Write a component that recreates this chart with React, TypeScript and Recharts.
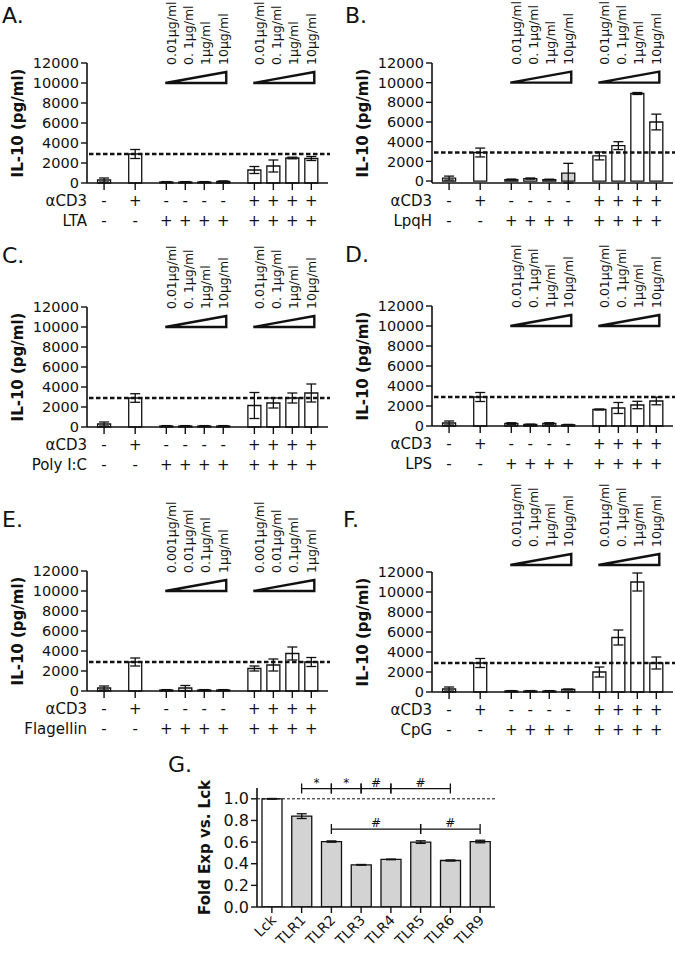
import React from "react";
import {
  ComposedChart,
  Bar,
  Cell,
  ErrorBar,
  XAxis,
  YAxis,
  ReferenceLine,
} from "recharts";

const FONT = "'DejaVu Sans', sans-serif";
const INK = "#111";

// conditions under each bar
const cd3Row = ["-", "+", "-", "-", "-", "-", "+", "+", "+", "+"];
const agonistRow = ["-", "-", "+", "+", "+", "+", "+", "+", "+", "+"];
const il10Ticks = [0, 2000, 4000, 6000, 8000, 10000, 12000];
const cd3Level = 2900;

const dosesStd = ["0.01µg/ml", "0. 1µg/ml", "1µg/ml", "10µg/ml"];
const dosesFla = ["0.001µg/ml", "0.01µg/ml", "0.1µg/ml", "1µg/ml"];

const ltaMean = [300, 2900, 100, 100, 100, 150, 1300, 1700, 2500, 2450];
const ltaErr = [200, 450, 40, 40, 40, 60, 350, 600, 80, 200];

const lpqhMean = [300, 2900, 150, 250, 150, 800, 2550, 3600, 8900, 6000];
const lpqhErr = [200, 450, 50, 60, 40, 1000, 400, 400, 100, 800];

const polyMean = [300, 2900, 100, 100, 100, 100, 2150, 2400, 2900, 3400];
const polyErr = [200, 430, 40, 40, 40, 40, 1300, 500, 500, 900];

const lpsMean = [300, 2900, 250, 150, 250, 120, 1650, 1800, 2100, 2500];
const lpsErr = [200, 450, 80, 40, 80, 40, 50, 550, 370, 380];

const flaMean = [300, 2900, 100, 300, 100, 100, 2250, 2600, 3750, 2900];
const flaErr = [200, 400, 40, 250, 40, 40, 250, 600, 650, 450];

const cpgMean = [300, 2900, 100, 100, 100, 250, 2000, 5450, 11000, 2900];
const cpgErr = [200, 450, 40, 40, 40, 50, 500, 750, 900, 600];

// panel G
const tlrNames = ["Lck", "TLR1", "TLR2", "TLR3", "TLR4", "TLR5", "TLR6", "TLR9"];
const tlrMean = [1.0, 0.84, 0.605, 0.39, 0.44, 0.6, 0.43, 0.605];
const tlrErr = [0.003, 0.022, 0.006, 0.003, 0.003, 0.012, 0.005, 0.012];
const foldTicks = [0, 0.2, 0.4, 0.6, 0.8, 1.0];
const sigTop = [
  ["TLR1", "TLR2", "*"],
  ["TLR2", "TLR3", "*"],
  ["TLR3", "TLR4", "#"],
  ["TLR4", "TLR6", "#"],
];
const sigMid = [
  ["TLR2", "TLR5", "#"],
  ["TLR5", "TLR9", "#"],
];

// bars sit in groups: control, aCD3, agonist x4, aCD3+agonist x4
function slotPositions(sizes: number[], gap: number) {
  const out: number[] = [];
  let p = 0;
  sizes.forEach((n, g) => {
    if (g > 0) p += gap - 1;
    for (let k = 0; k < n; k++) {
      out.push(p);
      p += 1;
    }
  });
  return out;
}
const xPos = slotPositions([1, 1, 4, 4], 1.64);

function SignTick(props: any, agonist: string) {
  const { x, y, index } = props;
  const ay = y - 7;
  return (
    <g fontFamily={FONT} fontSize={15} fill={INK}>
      <text x={x} y={ay + 23} textAnchor="middle">
        {cd3Row[index]}
      </text>
      <text x={x} y={ay + 43} textAnchor="middle">
        {agonistRow[index]}
      </text>
      {index === 0 && (
        <>
          <text x={x - 17} y={ay + 23} textAnchor="end">
            αCD3
          </text>
          <text x={x - 17} y={ay + 43} textAnchor="end">
            {agonist}
          </text>
        </>
      )}
    </g>
  );
}

function Wedge(props: any, labels: string[]) {
  const { x1, y1, x2 } = props;
  const step = (x2 - x1 - 5) / 3;
  return (
    <g>
      <path
        d={`M${x1 - 1},${y1}L${x2 + 3},${y1}L${x2 + 3},${y1 - 11}Z`}
        fill="#fff"
        stroke={INK}
        strokeWidth={2.4}
        strokeLinejoin="miter"
      />
      {labels.map((s, i) => {
        const cx = x1 + 5 + i * step + 4.5;
        const by = y1 - 18;
        return (
          <text
            key={i}
            x={cx}
            y={by}
            transform={`rotate(-90 ${cx} ${by})`}
            fontFamily={FONT}
            fontSize={12.5}
            fill={INK}
          >
            {s}
          </text>
        );
      })}
    </g>
  );
}

function DashLine(props: any) {
  const { x1, y1, x2 } = props;
  return (
    <line
      x1={x1 + 2}
      x2={x2 + 10}
      y1={y1}
      y2={y1}
      stroke={INK}
      strokeWidth={2.6}
      strokeDasharray="4.5 2.5"
    />
  );
}

function DosePanel({
  left,
  top,
  agonist,
  mean,
  err,
  doses,
  grey = [],
  wedgeAt = 10000,
}: {
  left: number;
  top: number;
  agonist: string;
  mean: number[];
  err: number[];
  doses: string[];
  grey?: number[];
  wedgeAt?: number;
}) {
  const data = mean.map((v, i) => ({ x: xPos[i], v, err: err[i] }));
  return (
    <div style={{ position: "absolute", left, top }}>
      <ComposedChart
        width={330}
        height={300}
        data={data}
        margin={{ top: 123, right: 2, bottom: 0, left: 0 }}
      >
        <XAxis
          dataKey="x"
          type="number"
          domain={[-0.9, 11.8]}
          ticks={xPos}
          interval={0}
          allowDataOverflow
          height={57}
          tickSize={7}
          tickMargin={0}
          axisLine={{ stroke: INK, strokeWidth: 1.6 }}
          tickLine={{ stroke: INK, strokeWidth: 1.4 }}
          tick={(p: any) => SignTick(p, agonist)}
        />
        <YAxis
          domain={[0, 12000]}
          ticks={il10Ticks}
          interval={0}
          width={87}
          tickSize={6}
          tickMargin={2}
          axisLine={{ stroke: INK, strokeWidth: 1.6 }}
          tickLine={{ stroke: INK, strokeWidth: 1.4 }}
          tick={{ fontFamily: FONT, fontSize: 14.5, fill: INK }}
          label={{
            value: "IL-10 (pg/ml)",
            angle: -90,
            position: "center",
            dx: -26,
            style: {
              fontFamily: FONT,
              fontSize: 15,
              fontWeight: "bold",
              fill: INK,
            },
          }}
        />
        <Bar
          dataKey="v"
          barSize={13}
          fill="#fff"
          stroke={INK}
          strokeWidth={1.3}
          isAnimationActive={false}
        >
          {data.map((_, i) => (
            <Cell key={i} fill={grey.includes(i) ? "#d2d2d2" : "#fff"} />
          ))}
          <ErrorBar
            dataKey="err"
            direction="y"
            width={5}
            stroke={INK}
            strokeWidth={1.3}
          />
        </Bar>
        <ReferenceLine y={cd3Level} ifOverflow="visible" shape={DashLine} />
        <ReferenceLine
          segment={[
            { x: xPos[2], y: wedgeAt },
            { x: xPos[5], y: wedgeAt },
          ]}
          ifOverflow="visible"
          shape={(p: any) => Wedge(p, doses)}
        />
        <ReferenceLine
          segment={[
            { x: xPos[6], y: wedgeAt },
            { x: xPos[9], y: wedgeAt },
          ]}
          ifOverflow="visible"
          shape={(p: any) => Wedge(p, doses)}
        />
      </ComposedChart>
    </div>
  );
}

function Bracket(props: any, mark: string) {
  const { x1, y1, x2 } = props;
  return (
    <g>
      <path
        d={`M${x1},${y1 - 5}V${y1 + 5}M${x1},${y1}H${x2}M${x2},${y1 - 5}V${y1 + 5}`}
        stroke={INK}
        strokeWidth={1.3}
        fill="none"
      />
      <text
        x={(x1 + x2) / 2}
        y={y1 - 2}
        textAnchor="middle"
        fontFamily={FONT}
        fontSize={12}
        fill={INK}
      >
        {mark}
      </text>
    </g>
  );
}

function TlrTick(props: any) {
  const { x, y, payload } = props;
  const tx = x + 5;
  const ty = y + 8;
  return (
    <text
      x={tx}
      y={ty}
      transform={`rotate(-45 ${tx} ${ty})`}
      textAnchor="end"
      fontFamily={FONT}
      fontSize={14}
      fill={INK}
    >
      {payload.value}
    </text>
  );
}

function FoldPanel() {
  const data = tlrNames.map((name, i) => ({
    name,
    v: tlrMean[i],
    err: tlrErr[i],
  }));
  return (
    <div style={{ position: "absolute", left: 150, top: 740 }}>
      <ComposedChart
        width={350}
        height={218}
        data={data}
        margin={{ top: 48, right: 5, bottom: 0, left: 0 }}
      >
        <XAxis
          dataKey="name"
          interval={0}
          height={51}
          tickSize={6}
          tickMargin={0}
          axisLine={{ stroke: INK, strokeWidth: 1.6 }}
          tickLine={{ stroke: INK, strokeWidth: 1.4 }}
          tick={TlrTick}
        />
        <YAxis
          domain={[0, 1.1]}
          ticks={foldTicks}
          interval={0}
          width={107}
          tickSize={6}
          tickMargin={2}
          allowDataOverflow
          tickFormatter={(v: number) => v.toFixed(1)}
          axisLine={{ stroke: INK, strokeWidth: 1.6 }}
          tickLine={{ stroke: INK, strokeWidth: 1.4 }}
          tick={{ fontFamily: FONT, fontSize: 16, fill: INK }}
          label={{
            value: "Fold Exp vs. Lck",
            angle: -90,
            position: "center",
            dx: 1,
            style: {
              fontFamily: FONT,
              fontSize: 15,
              fontWeight: "bold",
              fill: INK,
            },
          }}
        />
        <ReferenceLine
          y={1}
          stroke={INK}
          strokeWidth={1}
          strokeDasharray="3 2"
        />
        <Bar
          dataKey="v"
          barSize={20}
          stroke={INK}
          strokeWidth={1.3}
          isAnimationActive={false}
        >
          {data.map((_, i) => (
            <Cell key={i} fill={i === 0 ? "#fff" : "#d3d3d3"} />
          ))}
          <ErrorBar
            dataKey="err"
            direction="y"
            width={5}
            stroke={INK}
            strokeWidth={1.3}
          />
        </Bar>
        {sigTop.map(([a, b, m]) => (
          <ReferenceLine
            key={"t" + a}
            segment={[
              { x: a, y: 1.095 },
              { x: b, y: 1.095 },
            ]}
            ifOverflow="visible"
            shape={(p: any) => Bracket(p, m)}
          />
        ))}
        {sigMid.map(([a, b, m]) => (
          <ReferenceLine
            key={"m" + a}
            segment={[
              { x: a, y: 0.72 },
              { x: b, y: 0.72 },
            ]}
            ifOverflow="visible"
            shape={(p: any) => Bracket(p, m)}
          />
        ))}
      </ComposedChart>
    </div>
  );
}

const panelLetters: [string, number, number][] = [
  ["A.", 2, 23],
  ["B.", 345, 23],
  ["C.", 2, 263],
  ["D.", 345, 262],
  ["E.", 2, 527],
  ["F.", 343, 527],
  ["G.", 168, 772],
];

export default function App() {
  return (
    <div
      style={{
        position: "absolute",
        left: 0,
        top: 0,
        width: 675,
        height: 958,
        overflow: "hidden",
        background: "#fff",
      }}
    >
      <DosePanel left={0} top={-60} agonist="LTA" mean={ltaMean} err={ltaErr} doses={dosesStd} />
      <DosePanel left={345} top={-60} agonist="LpqH" mean={lpqhMean} err={lpqhErr} doses={dosesStd} grey={[5]} />
      <DosePanel left={0} top={184} agonist="Poly I:C" mean={polyMean} err={polyErr} doses={dosesStd} />
      <DosePanel left={345} top={183} agonist="LPS" mean={lpsMean} err={lpsErr} doses={dosesStd} />
      <DosePanel left={0} top={448} agonist="Flagellin" mean={flaMean} err={flaErr} doses={dosesFla} />
      <DosePanel left={345} top={449} agonist="CpG" mean={cpgMean} err={cpgErr} doses={dosesStd} wedgeAt={12700} />
      <FoldPanel />
      <svg
        width={675}
        height={958}
        style={{ position: "absolute", left: 0, top: 0, pointerEvents: "none" }}
      >
        {panelLetters.map(([t, x, y]) => (
          <text key={t} x={x} y={y} fontFamily={FONT} fontSize={22} fill={INK}>
            {t}
          </text>
        ))}
      </svg>
    </div>
  );
}
